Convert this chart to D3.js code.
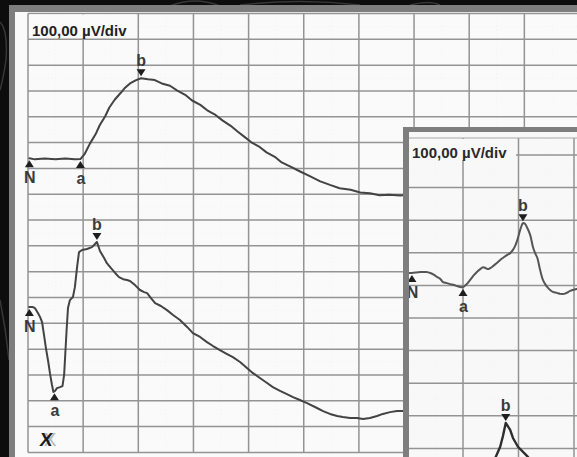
<!DOCTYPE html>
<html><head><meta charset="utf-8">
<script src="https://cdn.jsdelivr.net/npm/d3@7/dist/d3.min.js"></script>
<style>html,body{margin:0;padding:0;background:#0e0e0e;overflow:hidden}svg{display:block}</style>
</head><body><svg id="c" width="577" height="457"></svg>
<script>
// ---------- DATA ----------
const scaleLabel = "100,00 µV/div";
// main recording: time (ms), 20 ms/div ; amplitude (µV), 100 µV/div
const mainTicksX = [0, 20, 40, 60, 80, 100, 120, 140, 160, 180, 200];
const mainTicksY = [0, -100, -200, -300, -400, -500, -600, -700, -800, -900, -1000, -1100, -1200, -1300, -1400, -1500, -1600, -1700];
const topOffset = -565;     // baseline of upper trace (µV on chart)
const bottomOffset = -1137; // baseline of lower trace
const topTrace = [[0.5,4],[2.5,0],[6,3],[10,0],[13.5,3],[17,0],[19,1],[20.5,20],[22.5,62],[24.5,97],[26,132],[28,167],[29.5,201],[31.5,232],[33.5,256],[35,275],[37,294],[39,306],[41,314],[43.5,310],[46,307],[48.5,294],[51.5,285],[54,267],[57,250],[59.5,228],[62.5,211],[65,190],[68,172],[70.5,151],[73.5,130],[76,108],[78.5,87],[81,66],[84,48],[86.5,27],[89.5,10],[92,-12],[95,-27],[98.5,-46],[102,-64],[106,-85],[109.5,-99],[113,-112],[117,-118],[120.5,-128],[124,-131],[127.5,-139],[131,-137],[135,-140],[137,-138]];
const bottomTrace = [[0.4,0],[1.8,0],[2.5,-4],[3.6,-23],[4.4,-39],[5.1,-58],[5.8,-108],[6.5,-159],[7.3,-209],[8,-259],[8.7,-302],[9.2,-329],[9.8,-325],[10.5,-314],[11.6,-310],[12.5,-306],[13.1,-263],[13.4,-205],[14,-89],[14.5,-4],[15.2,27],[16.3,39],[17,77],[17.8,155],[18.5,213],[19.6,221],[21.4,225],[23.2,232],[24.3,244],[25,252],[26.1,217],[27.6,190],[28.6,170],[30.1,151],[31.6,132],[33,116],[34.5,108],[35.9,105],[37,101],[38.8,85],[40.6,66],[42.1,58],[43.2,54],[44.6,35],[46.1,15],[48.2,4],[50.4,-12],[52.6,-31],[55.1,-50],[57.7,-77],[59.8,-101],[62.4,-116],[64.9,-136],[67.1,-151],[69.6,-167],[72.2,-182],[74.3,-194],[76.9,-213],[79.4,-236],[81.6,-256],[84.1,-275],[86.7,-294],[88.8,-310],[91.4,-325],[93.9,-337],[96.1,-349],[98.6,-360],[101.2,-372],[104.8,-391],[107,-403],[109.5,-414],[112.1,-422],[114.2,-426],[116.8,-430],[119.3,-430],[121.5,-434],[124,-430],[126.6,-422],[128.7,-414],[131.3,-407],[133.8,-403],[136.4,-403]];
const topMarkers = [["N", 0.5, "up"], ["a", 19, "up"], ["b", 41, "down"]];
const bottomMarkers = [["N", 0.5, "up"], ["a", 9.6, "up"], ["b", 25, "down"]];

// inset recording: 10 ms/div ; 100 µV/div
const insetTicksX = [0, 10, 20, 30, 40];
const insetTicksY = [0, -100, -200, -300, -400, -500, -600, -700, -800, -900, -1000, -1100];
const insetTopOffset = -462;
const insetBottomOffset = -1066;
const insetTopTrace = [[0.3,0],[0.8,0],[2.3,3],[3.4,3],[4.1,0],[4.8,-6],[5.3,-12],[5.9,-18],[6.4,-28],[7.1,-31],[7.7,-34],[8.4,-37],[8.9,-40],[9.5,-43],[10,-43],[10.5,-37],[11.3,-21],[12,-6],[12.5,3],[13.1,12],[13.6,18],[14.1,15],[14.5,12],[14.9,15],[15.4,21],[16.1,31],[16.7,40],[17.4,49],[17.9,55],[18.5,61],[19,71],[19.4,83],[19.8,102],[20.3,132],[20.6,147],[20.8,153],[21.2,150],[21.5,141],[22.1,117],[22.6,80],[23,61],[23.4,46],[23.9,9],[24.4,-21],[24.8,-34],[25.2,-43],[25.7,-52],[26.2,-58],[26.9,-61],[27.5,-64],[28.2,-64],[28.7,-61],[29.3,-55],[29.8,-52],[30.5,-49]];
const insetBottomTrace = [[15.3,6],[15.9,40],[16.7,71],[17.2,104],[17.7,144],[18.5,123],[19,98],[19.9,71],[21.7,40],[22.6,12]];
const insetTopMarkers = [["N", 0.8, "up"], ["a", 10, "up"], ["b", 20.8, "down"]];
const insetBottomMarkers = [["b", 17.7, "down"]];

// ---------- DRAW ----------
const svg = d3.select("#c");
const W = 577, H = 457;
const defs = svg.append("defs");

svg.append("rect").attr("width", W).attr("height", H).attr("fill", "#0d0d0d");
// faint photo texture in the dark background
const deco = svg.append("g").attr("fill", "none").attr("stroke", "#4a4a4a").attr("stroke-width", 1.5).attr("opacity", 0.7);
deco.append("path").attr("d", "M0,22 Q8,30 6,60 Q3,80 0,90");
deco.append("path").attr("d", "M0,300 Q6,330 9,360");
deco.append("path").attr("d", "M170,6 Q195,-4 220,6");
deco.append("path").attr("d", "M240,5 Q300,-2 360,5");
deco.append("path").attr("d", "M410,5 Q430,0 440,5");

// ---- main panel ----
svg.append("rect").attr("x", 9).attr("y", 5).attr("width", 600).attr("height", 470).attr("fill", "#7e7e7e");
svg.append("rect").attr("x", 15).attr("y", 12).attr("width", 600).attr("height", 470).attr("fill", "#fafafa");

const xMain = d3.scaleLinear().domain([0, 200]).range([28, 579.5]);
const yMain = d3.scaleLinear().domain([0, -1700]).range([13.5, 452.4]);

function drawGrid(g, x, y, ticksX, ticksY, x0, x1, y0, y1) {
  // very faint sub-division texture
  const minor = g.append("g").attr("stroke", "#f0f0f0").attr("stroke-width", 0.7).attr("stroke-dasharray", "1,3");
  for (let i = 0; i < ticksX.length - 1; i++) {
    const xx = x(ticksX[i] + (ticksX[i + 1] - ticksX[i]) * 0.5);
    minor.append("line").attr("x1", xx).attr("x2", xx).attr("y1", y0).attr("y2", y1);
  }
  for (let i = 0; i < ticksY.length - 1; i++) {
    const yy = y(ticksY[i] + (ticksY[i + 1] - ticksY[i]) * 0.5);
    minor.append("line").attr("x1", x0).attr("x2", x1).attr("y1", yy).attr("y2", yy);
  }
  const major = g.append("g").attr("stroke", "#939393").attr("stroke-width", 1.5);
  major.selectAll(".vx").data(ticksX).join("line")
    .attr("x1", d => x(d)).attr("x2", d => x(d)).attr("y1", y0).attr("y2", y1);
  major.selectAll(".hy").data(ticksY).join("line")
    .attr("x1", x0).attr("x2", x1).attr("y1", d => y(d)).attr("y2", d => y(d));
}

defs.append("clipPath").attr("id", "mainClip").append("rect").attr("x", 15).attr("y", 12).attr("width", 600).attr("height", 470);
const mainG = svg.append("g").attr("clip-path", "url(#mainClip)");
drawGrid(mainG, xMain, yMain, mainTicksX, mainTicksY, 28, 580, 13.5, 452.4);

// label box
mainG.append("rect").attr("x", 29).attr("y", 14.5).attr("width", 107).attr("height", 23.5).attr("fill", "#fafafa");
mainG.append("text").attr("x", 32).attr("y", 36).text(scaleLabel)
  .attr("font-family", "Liberation Sans, Arial, sans-serif").attr("font-weight", "bold").attr("font-size", 15).attr("fill", "#222");

function valueAt(trace, t) {
  const i = d3.bisector(d => d[0]).left(trace, t);
  if (i <= 0) return trace[0][1];
  if (i >= trace.length) return trace[trace.length - 1][1];
  const a = trace[i - 1], b = trace[i];
  return a[1] + (b[1] - a[1]) * (t - a[0]) / (b[0] - a[0]);
}

function drawTrace(g, trace, offset, x, y, curve, color, width) {
  const line = d3.line().x(d => x(d[0])).y(d => y(offset + d[1])).curve(curve);
  g.append("path").datum(trace).attr("d", line).attr("fill", "none")
    .attr("stroke", color).attr("stroke-width", width).attr("stroke-linejoin", "round").attr("stroke-linecap", "round");
}

function drawMarkers(g, markers, trace, offset, x, y) {
  markers.forEach(([lab, t, dir]) => {
    const cx = x(t), cy = y(offset + valueAt(trace, t));
    if (dir === "up") {
      const ap = cy + 2;
      g.append("path").attr("d", `M${cx},${ap}L${cx - 4.5},${ap + 7}L${cx + 4.5},${ap + 7}Z`).attr("fill", "#1e1e1e");
      g.append("text").attr("x", cx + 0.5).attr("y", ap + 23).attr("text-anchor", "middle").text(lab)
        .attr("font-family", "Liberation Sans, Arial, sans-serif").attr("font-weight", "bold").attr("font-size", 16).attr("fill", "#3a3a3a");
    } else {
      const ap = cy - 2;
      g.append("path").attr("d", `M${cx},${ap}L${cx - 4.5},${ap - 7}L${cx + 4.5},${ap - 7}Z`).attr("fill", "#1e1e1e");
      g.append("text").attr("x", cx).attr("y", ap - 10).attr("text-anchor", "middle").text(lab)
        .attr("font-family", "Liberation Sans, Arial, sans-serif").attr("font-weight", "bold").attr("font-size", 16).attr("fill", "#3a3a3a");
    }
  });
}

drawTrace(mainG, topTrace, topOffset, xMain, yMain, d3.curveLinear, "#434343", 2);
drawTrace(mainG, bottomTrace, bottomOffset, xMain, yMain, d3.curveLinear, "#434343", 2);
drawMarkers(mainG, topMarkers, topTrace, topOffset, xMain, yMain);
drawMarkers(mainG, bottomMarkers, bottomTrace, bottomOffset, xMain, yMain);

// crossed mark at lower left
mainG.append("text").attr("x", 50).attr("y", 446).attr("text-anchor", "middle").text("X")
  .attr("font-family", "Liberation Sans, Arial, sans-serif").attr("font-size", 19).attr("fill", "#b5b5b5");
mainG.append("text").attr("x", 46).attr("y", 446).attr("text-anchor", "middle").text("X")
  .attr("font-family", "Liberation Sans, Arial, sans-serif").attr("font-weight", "bold").attr("font-size", 19).attr("fill", "#1c1c1c")
  .attr("transform", "skewX(-8) translate(62,0)");

// ---- inset panel ----
svg.append("rect").attr("x", 403).attr("y", 127).attr("width", 200).attr("height", 340).attr("fill", "#7e7e7e");
svg.append("rect").attr("x", 409).attr("y", 132).attr("width", 200).attr("height", 340).attr("fill", "#f8f8f8");

const xIn = d3.scaleLinear().domain([0, 40]).range([407.5, 629.5]);
const yIn = d3.scaleLinear().domain([0, -1000]).range([122.4, 448.4]);

defs.append("clipPath").attr("id", "inClip").append("rect").attr("x", 409).attr("y", 132).attr("width", 200).attr("height", 340);
const inG = svg.append("g").attr("clip-path", "url(#inClip)");
drawGrid(inG, xIn, yIn, insetTicksX, insetTicksY, 409, 600, 138, 500);
inG.append("line").attr("x1", 409).attr("x2", 600).attr("y1", 138).attr("y2", 138).attr("stroke", "#a8a8a8").attr("stroke-width", 1.2);
inG.append("rect").attr("x", 409).attr("y", 139).attr("width", 107).attr("height", 21).attr("fill", "#f8f8f8");
inG.append("text").attr("x", 412).attr("y", 158).text(scaleLabel)
  .attr("font-family", "Liberation Sans, Arial, sans-serif").attr("font-weight", "bold").attr("font-size", 15).attr("fill", "#2a2a2a");

drawTrace(inG, insetTopTrace, insetTopOffset, xIn, yIn, d3.curveCatmullRom, "#555", 2);
drawTrace(inG, insetBottomTrace, insetBottomOffset, xIn, yIn, d3.curveLinear, "#2e2e2e", 2.4);
drawMarkers(inG, insetTopMarkers, insetTopTrace, insetTopOffset, xIn, yIn);
drawMarkers(inG, insetBottomMarkers, insetBottomTrace, insetBottomOffset, xIn, yIn);
</script></body></html>
